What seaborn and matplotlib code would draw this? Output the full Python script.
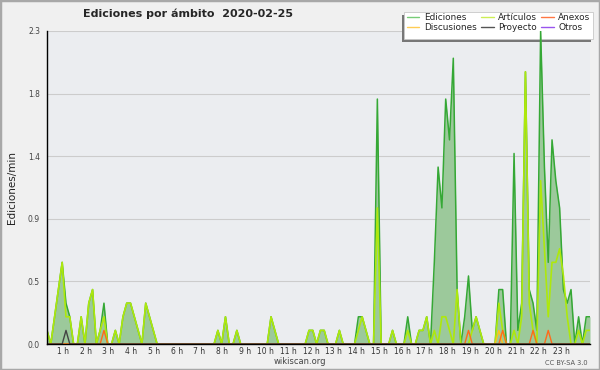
import numpy as np
import matplotlib
matplotlib.use('Agg')
import matplotlib.pyplot as plt
from matplotlib.patches import Rectangle
from matplotlib.lines import Line2D
from matplotlib.transforms import ScaledTranslation
import seaborn as sns

# edits per minute, one value per 10 minute bin (00:00 ... 23:50), 12 bins per row
ediciones = [
    0.1, 0, 0.2, 0.4, 0.6, 0.3, 0.2, 0, 0, 0.2, 0, 0.3,
    0.4, 0, 0.1, 0.3, 0, 0, 0.1, 0, 0.2, 0.3, 0.3, 0.2,
    0.1, 0, 0.3, 0.2, 0.1, 0, 0, 0, 0, 0, 0, 0,
    0, 0, 0, 0, 0, 0, 0, 0, 0, 0.1, 0, 0.2,
    0, 0, 0.1, 0, 0, 0, 0, 0, 0, 0, 0, 0.2,
    0.1, 0, 0, 0, 0, 0, 0, 0, 0, 0.1, 0.1, 0,
    0.1, 0.1, 0, 0, 0, 0.1, 0, 0, 0, 0, 0.2, 0.2,
    0.1, 0, 0, 1.8, 0, 0, 0, 0.1, 0, 0, 0, 0.2,
    0, 0, 0.1, 0.1, 0.2, 0, 0.6, 1.3, 1.0, 1.8, 1.5, 2.1,
    0.4, 0, 0.2, 0.5, 0.1, 0.2, 0.1, 0, 0, 0, 0, 0.4,
    0.4, 0, 0, 1.4, 0.1, 0.3, 2.0, 0.4, 0.3, 0.1, 2.3, 1.3,
    0.6, 1.5, 1.2, 1.0, 0.4, 0.3, 0.4, 0, 0.2, 0, 0.2, 0.2,
]
articulos = [
    0.1, 0, 0.2, 0.4, 0.6, 0.2, 0.2, 0, 0, 0.2, 0, 0.3,
    0.4, 0, 0.1, 0.2, 0, 0, 0.1, 0, 0.2, 0.3, 0.3, 0.2,
    0.1, 0, 0.3, 0.2, 0.1, 0, 0, 0, 0, 0, 0, 0,
    0, 0, 0, 0, 0, 0, 0, 0, 0, 0.1, 0, 0.2,
    0, 0, 0.1, 0, 0, 0, 0, 0, 0, 0, 0, 0.2,
    0.1, 0, 0, 0, 0, 0, 0, 0, 0, 0.1, 0.1, 0,
    0.1, 0.1, 0, 0, 0, 0.1, 0, 0, 0, 0, 0.1, 0.2,
    0.1, 0, 0, 1.0, 0, 0, 0, 0.1, 0, 0, 0, 0.1,
    0, 0, 0.1, 0.1, 0.2, 0, 0.1, 0, 0.2, 0.2, 0.1, 0,
    0.4, 0, 0, 0, 0.1, 0.2, 0.1, 0, 0, 0, 0, 0.3,
    0.1, 0, 0, 0.1, 0, 0.2, 2.0, 0.3, 0.1, 0, 1.2, 0.7,
    0.2, 0.6, 0.6, 0.7, 0.5, 0.2, 0, 0, 0.1, 0, 0.1, 0.1,
]
# sparse series: bin index -> edits/min
anexos_bins = [15, 111, 120, 128, 132]
anexos_vals = [0.1, 0.1, 0.1, 0.1, 0.1]
discusiones_bins = [119]
discusiones_vals = [0.1]
proyecto_bins = [5]
proyecto_vals = [0.1]

hour_labels = [f'{h} h' for h in range(1, 24)]
y_labels = ['0.0', '0.5', '0.9', '1.4', '1.8', '2.3']

n_bins = len(ediciones)
hours = np.arange(n_bins) / 6


def sparse(bins, vals):
    s = np.zeros(n_bins)
    s[bins] = vals
    return s


anexos = sparse(anexos_bins, anexos_vals)
discusiones = sparse(discusiones_bins, discusiones_vals)
proyecto = sparse(proyecto_bins, proyecto_vals)
otros = np.zeros(n_bins)

sns.set_style('white')
plt.rcParams['font.family'] = ['DejaVu Sans']

W, H = 600, 370
fig = plt.figure(figsize=(W / 100, H / 100), dpi=100, facecolor='#f0f0f0')
ax = fig.add_axes([47 / W, 26 / H, 543 / W, 313 / H])
ax.set_facecolor('#ebedf0')

c_ed, c_art = '#35a835', '#aee80c'
ax.fill_between(hours, ediciones, color='#9cc99b', lw=0, zorder=1.6)
sns.lineplot(x=hours, y=ediciones, ax=ax, color=c_ed, lw=1.1, zorder=2.0, legend=False)
sns.lineplot(x=hours, y=articulos, ax=ax, color=c_art, lw=1.2, zorder=2.1, legend=False)
sns.lineplot(x=hours, y=discusiones, ax=ax, color='#ffc21a', lw=1.0, zorder=2.2, legend=False)
sns.lineplot(x=hours, y=anexos, ax=ax, color='#ff6a1a', lw=1.0, zorder=2.3, legend=False)
sns.lineplot(x=hours, y=proyecto, ax=ax, color='#444444', lw=1.0, zorder=2.4, legend=False)
sns.lineplot(x=hours, y=otros, ax=ax, color='#9933ee', lw=0.8, zorder=2.0, legend=False)

ax.set_xlim(0, hours[-1])
ax.set_ylim(0, 2.3)
ax.set_xlabel('')
ax.set_ylabel('')

# axes, ticks, grid
ax.set_yticks(np.linspace(0, 2.3, 6))
ax.set_yticklabels(y_labels)
ax.set_yticks(np.linspace(0, 2.3, 16), minor=True)
ax.set_xticks(range(1, 24))
ax.set_xticklabels(hour_labels, ha='right')
ax.set_xticks(hours, minor=True)
ax.tick_params(axis='both', which='both', direction='out', length=3, width=0.8, color='black')
ax.tick_params(axis='y', labelsize=5.5, labelcolor='#444444', pad=2)
ax.tick_params(axis='x', labelsize=5.5, labelcolor='#333333', pad=-1.2)
off = ScaledTranslation(-1 / 100, 0, fig.dpi_scale_trans)
for lab in ax.get_xticklabels():
    lab.set_transform(lab.get_transform() + off)
ax.set_axisbelow(True)
ax.grid(axis='y', which='major', color='#cccccc', lw=0.8)
ax.grid(axis='x', visible=False)
for side in ['top', 'right']:
    ax.spines[side].set_visible(False)
for side in ['left', 'bottom']:
    ax.spines[side].set_color('black')
    ax.spines[side].set_linewidth(1.0)
    ax.spines[side].set_zorder(3)

# legend box with shadow, drawn below the data lines
ax.add_patch(Rectangle((401.5 / W, 1 - 41.7 / H), 189 / W, 26.7 / H, transform=fig.transFigure,
                       facecolor='#777777', lw=0, clip_on=False, zorder=1.2))
ax.add_patch(Rectangle((404.3 / W, 1 - 39 / H), 188.4 / W, 26.7 / H, transform=fig.transFigure,
                       facecolor='white', edgecolor='#c8c8c8', lw=0.6, clip_on=False, zorder=1.3))
handles = [
    Line2D([], [], color='#77cc77', lw=1), Line2D([], [], color='#ffcc55', lw=1),
    Line2D([], [], color='#ccee55', lw=1), Line2D([], [], color='#555555', lw=1),
    Line2D([], [], color='#ff7744', lw=1), Line2D([], [], color='#9955ee', lw=1),
]
labels = ['Ediciones', 'Discusiones', 'Artículos', 'Proyecto', 'Anexos', 'Otros']
leg = ax.legend(handles, labels, ncol=3, loc='upper left', bbox_to_anchor=(407 / W, 1 - 13.5 / H),
                bbox_transform=fig.transFigure, frameon=False, fontsize=6.4, handlelength=1.4,
                handletextpad=0.5, columnspacing=0.5, labelspacing=0.05, borderpad=0, borderaxespad=0)
leg.set_zorder(1.5)

# texts
fig.text(188 / W, 1 - 14 / H, 'Ediciones por ámbito  2020-02-25', fontsize=8, fontweight='bold',
         ha='center', va='center')
fig.text(12 / W, 1 - 188 / H, 'Ediciones/min', rotation=90, fontsize=7.5, color='#222222',
         ha='center', va='center')
fig.text(300 / W, 1 - 362 / H, 'wikiscan.org', fontsize=6, color='#444444', ha='center', va='center')
fig.text(588 / W, 1 - 363 / H, 'CC BY-SA 3.0', fontsize=4.8, color='#555555', ha='right', va='center')

fig.patches.append(Rectangle((0, 0), 1, 1, transform=fig.transFigure, fill=False,
                             edgecolor='#a8a8a8', lw=2.5))

fig.savefig('out.png', dpi=100, facecolor=fig.get_facecolor())
